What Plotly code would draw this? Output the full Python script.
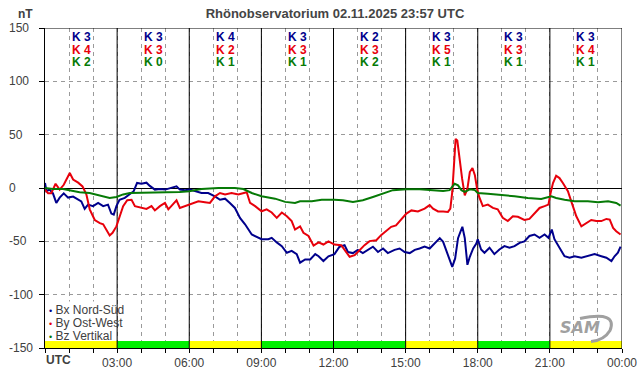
import plotly.graph_objects as go

# ---------------- data ----------------
bx_t = [0.0, 0.06, 0.19, 0.33, 0.47, 0.61, 0.78, 0.96, 1.17, 1.38, 1.51, 1.65, 1.79, 2.0, 2.21, 2.42,
        2.62, 2.76, 2.86, 2.97, 3.1, 3.32, 3.53, 3.69, 3.83, 4.01, 4.22, 4.36, 4.57, 4.78, 5.0, 5.19,
        5.47, 5.61, 5.82, 6.03, 6.24, 6.51, 6.79, 7.07, 7.28, 7.49, 7.69, 7.9, 8.11, 8.32, 8.6, 8.81,
        9.01, 9.29, 9.43, 9.64, 9.85, 10.06, 10.26, 10.47, 10.61, 10.82, 11.03, 11.24, 11.38, 11.58,
        11.79, 12.04, 12.25, 12.46, 12.6, 12.81, 13.01, 13.22, 13.43, 13.64, 13.85, 14.06, 14.26,
        14.54, 14.75, 14.96, 15.17, 15.38, 15.58, 15.79, 16.0, 16.21, 16.42, 16.56, 16.69, 16.83,
        16.94, 17.06, 17.18, 17.28, 17.36, 17.46, 17.57, 17.67, 17.81, 17.94, 18.0, 18.14, 18.28,
        18.49, 18.69, 18.9, 19.11, 19.32, 19.53, 19.74, 19.94, 20.15, 20.36, 20.57, 20.78, 20.94,
        21.08, 21.19, 21.4, 21.61, 21.82, 22.03, 22.31, 22.58, 22.86, 23.14, 23.35, 23.56, 23.69,
        23.83, 23.94]
bx_v = [4.7, -3, -1.5, -5, -14, -9, -5, -9, -8, -11, -12.5, -19.6, -15.6, -17, -14, -17,
        -15.6, -24, -25, -17, -11, -9.3, -6, -3, 4.7, 4, 5, 2, -1.5, -1, -1.5, 0,
        1.5, -1.5, -2, -1.5, -3, -4.7, -4.7, -7.8, -11, -10, -14, -18.7, -28, -34, -43.6, -45.8,
        -48, -48, -46.7, -51, -54.5, -60.7, -59, -62, -70, -67, -67, -62, -64, -68.5,
        -64, -62, -55, -53.6, -60, -61, -58, -61, -58, -55, -60, -56.7, -61,
        -58, -56.7, -60, -61, -58, -56.7, -55, -56.7, -52, -47, -50.5, -58, -66,
        -74, -66, -47, -41, -36.4, -47, -72, -64.5, -56.7, -52, -48, -57.6, -60.7,
        -56, -62, -57.6, -54.5, -56, -54.5, -51.4, -50, -45, -43.6, -46.7, -43.6, -46.7,
        -39, -48, -56, -64, -65.4, -64, -65.4, -64, -62, -64, -65.4, -68.5, -64,
        -60.7, -55]

by_t = [0.0, 0.13, 0.26, 0.44, 0.61, 0.78, 1.03, 1.17, 1.38, 1.56, 1.72, 1.86, 2.07, 2.28, 2.42,
        2.56, 2.69, 2.81, 2.97, 3.11, 3.25, 3.42, 3.6, 3.74, 3.94, 4.22, 4.43, 4.57, 4.78, 4.99,
        5.13, 5.26, 5.47, 5.61, 5.82, 6.03, 6.38, 6.65, 6.86, 7.07, 7.28, 7.49, 7.76, 8.04, 8.25,
        8.39, 8.53, 8.74, 9.01, 9.22, 9.43, 9.64, 9.85, 10.06, 10.26, 10.4, 10.61, 10.75, 10.96,
        11.17, 11.38, 11.58, 11.79, 12.04, 12.32, 12.46, 12.67, 12.88, 13.08, 13.29, 13.5, 13.78,
        13.99, 14.19, 14.4, 14.6, 14.81, 15.03, 15.24, 15.51, 15.79, 16.0, 16.14, 16.35, 16.56,
        16.76, 16.86, 16.94, 17.01, 17.08, 17.15, 17.25, 17.35, 17.46, 17.57, 17.67, 17.78, 17.88,
        17.97, 18.06, 18.21, 18.42, 18.63, 18.83, 19.04, 19.25, 19.46, 19.67, 19.94, 20.15, 20.36,
        20.57, 20.78, 20.94, 21.03, 21.13, 21.26, 21.4, 21.54, 21.75, 21.89, 22.1, 22.31, 22.51,
        22.72, 22.93, 23.14, 23.35, 23.49, 23.63, 23.76, 23.94]
by_v = [-1.5, -5, -5, 4, -1.5, 3, 14, 8, 5, 1.5, -6, -20, -30, -33, -34,
        -40, -44.5, -42, -36, -26.5, -17, -11.5, -11, -17, -18, -19.6, -17, -21, -17, -14,
        -20, -17, -11.5, -18.7, -17, -15.6, -12.5, -13.4, -14, -7.8, -4.7, -6, -4.7, -6, -4.7,
        -4, -14, -17, -21.8, -20, -23, -28, -23, -26.5, -31, -39, -36, -42, -45,
        -54, -51, -53, -50, -53, -53.6, -58, -64.5, -63, -58, -53.6, -49.8, -49,
        -44, -40.5, -36.4, -35, -30, -24, -21, -22, -19.3, -16, -19.3, -22, -22,
        -22.4, -19.3, -3.7, 21, 46, 44.5, 24, 8.7, -6.9, -0.6, 15, 18.7, 12,
        -0.6, -8.4, -17, -15.6, -18.7, -20, -28, -31, -26.5, -27, -30, -29, -24,
        -18.7, -17, -15.6, -4.7, 4.7, 11.5, 9.3, 4.7, -3, -12.5, -26.5, -36, -32.7,
        -30, -31, -31, -29, -29.6, -37.4, -40.5, -43.6]

bz_t = [0.0, 0.33, 0.75, 1.03, 1.44, 1.86, 2.28, 2.69, 2.97, 3.25, 3.53, 3.94, 4.5, 5.06, 5.61,
        6.0, 6.51, 7.21, 7.9, 8.25, 8.6, 9.01, 9.57, 9.99, 10.4, 10.61, 11.1, 11.51, 12.04, 12.39,
        12.81, 13.22, 13.64, 14.06, 14.47, 15.03, 15.58, 16.14, 16.56, 16.83, 17.04, 17.18, 17.32,
        17.46, 17.67, 17.88, 18.0, 18.42, 18.97, 19.53, 20.08, 20.64, 21.06, 21.26, 21.61, 22.03,
        22.58, 23.0, 23.42, 23.76, 23.94]
bz_v = [0, -1, -1, -2, -4, -4.7, -7, -9.3, -8.4, -6, -4.7, -4.7, -4.7, -4, -3.7,
        -3, -1, 0, 0, -1, -4.7, -7.8, -10, -13, -14, -12.5, -12.5, -11, -11, -11.5,
        -13, -11.5, -8.4, -5.3, -2, -1.2, -1.2, -2, -2.8, -2, 4, 2.5, -2,
        -3.7, -1.2, -2, -4.7, -5.3, -6.2, -7.8, -9.3, -10.3, -7.8, -9.3, -11, -12.5,
        -12.5, -13.4, -12.5, -14, -16.5]

k_block_start = [0, 3, 6, 9, 12, 15, 18, 21]
k_bx = [3, 3, 4, 3, 2, 3, 3, 3]
k_by = [4, 3, 2, 3, 3, 5, 3, 4]
k_bz = [2, 0, 1, 1, 2, 1, 1, 1]
block_status = ["yellow", "green", "yellow", "green", "green", "yellow", "green", "yellow"]

y_ticks = [150, 100, 50, 0, -50, -100, -150]
x_hours = list(range(25))
x_labels = ["", "", "", "03:00", "", "", "06:00", "", "", "09:00", "", "", "12:00", "", "", "15:00",
            "", "", "18:00", "", "", "21:00", "", "", "00:00"]
series_names = ["Bx Nord-Süd", "By Ost-West", "Bz Vertikal"]
title_text = "Rhönobservatorium 02.11.2025 23:57 UTC"

# ---------------- styling ----------------
C_BX, C_BY, C_BZ = "#00008c", "#e8000b", "#067a06"
STATUS_COLORS = {"yellow": "#ffff00", "green": "#00f000"}
FONT = "Liberation Sans, Arial, sans-serif"
TXT = "#404040"
L, R, T, B = 45, 20, 27.5, 27.5
PW, PH = 642 - L - R, 376 - T - B


def px(xp, yp):
    return (xp - L) / PW, (376 - B - yp) / PH


fig = go.Figure()
for t, v, c, n in [(bx_t, bx_v, C_BX, series_names[0]), (by_t, by_v, C_BY, series_names[1]),
                   (bz_t, bz_v, C_BZ, series_names[2])]:
    fig.add_trace(go.Scatter(x=t, y=v, mode="lines", name=n, line=dict(color=c, width=2),
                             showlegend=False))

shapes = []
# white box behind the legend (axis-referenced so it sits above the grid)
shapes.append(dict(type="rect", xref="x", yref="y", x0=0.04, x1=2.95, y0=-143.5, y1=-106.5,
                   fillcolor="white", line=dict(width=0), layer="between"))
for s, st in zip(k_block_start, block_status):
    shapes.append(dict(type="rect", xref="x", yref="y", x0=s, x1=s + 3, y0=-150, y1=-143.5,
                       fillcolor=STATUS_COLORS[st], line=dict(width=0), layer="between"))
for h in range(3, 25, 3):
    shapes.append(dict(type="line", xref="x", yref="y", x0=h, x1=h, y0=-150, y1=150,
                       line=dict(color="black", width=1), layer="between"))
shapes.append(dict(type="line", xref="x", yref="y", x0=0, x1=24, y0=150, y1=150,
                   line=dict(color="black", width=1), layer="between"))
p = [px(580, 319), px(618, 311), px(610, 331), px(604, 341), px(591, 342)]
shapes.append(dict(type="path", xref="paper", yref="paper",
                   path=f"M {p[0][0]},{p[0][1]} Q {p[1][0]},{p[1][1]} {p[2][0]},{p[2][1]} "
                        f"Q {p[3][0]},{p[3][1]} {p[4][0]},{p[4][1]}",
                   line=dict(color="#a0a0a0", width=3)))

ann = []
for s, a, b, c in zip(k_block_start, k_bx, k_by, k_bz):
    for val, col, yp in [(a, C_BX, 37), (b, C_BY, 49.5), (c, C_BZ, 62)]:
        ann.append(dict(x=s + 1.5, y=px(0, yp)[1], xref="x", yref="paper", text=f"<b>K {val}</b>",
                        showarrow=False, xanchor="center", yanchor="middle",
                        font=dict(family=FONT, size=12, color=col)))
for yt in y_ticks:
    ann.append(dict(x=px(7, 0)[0], y=yt, xref="paper", yref="y", text=str(yt), xanchor="left",
                    yanchor="middle", showarrow=False, font=dict(family=FONT, size=12, color=TXT)))
ann.append(dict(x=px(16, 0)[0], y=px(0, 13)[1], xref="paper", yref="paper", text="<b>nT</b>",
                xanchor="left", yanchor="middle", showarrow=False, font=dict(family=FONT, size=12, color=TXT)))
ann.append(dict(x=px(44, 0)[0], y=px(0, 361)[1], xref="paper", yref="paper", text="<b>UTC</b>",
                xanchor="left", yanchor="middle", showarrow=False, font=dict(family=FONT, size=12, color=TXT)))
for i, (n, c) in enumerate(zip(series_names, [C_BX, C_BY, C_BZ])):
    ann.append(dict(x=px(47, 0)[0], y=px(0, 310 + 13 * i)[1], xref="paper", yref="paper",
                    text=f"<span style='color:{c};font-size:9px'>•</span> {n}", xanchor="left",
                    yanchor="middle", showarrow=False, font=dict(family=FONT, size=12, color=TXT)))
ann.append(dict(x=px(580, 0)[0], y=px(0, 328)[1], xref="paper", yref="paper", text="<b><i>SAM</i></b>",
                xanchor="center", yanchor="middle", showarrow=False,
                font=dict(family="DejaVu Sans, sans-serif", size=16, color="#a0a0a0")))

fig.update_layout(
    width=642, height=376,
    margin=dict(l=L, r=R, t=T, b=B, autoexpand=False),
    paper_bgcolor="white", plot_bgcolor="white",
    title=dict(text=f"<b>{title_text}</b>", x=335 / 642, xanchor="center", y=1 - 13 / 376,
               yanchor="middle", automargin=False,
               font=dict(family=FONT, size=13, color="#444444")),
    shapes=shapes, annotations=ann,
    xaxis=dict(range=[0, 24], tickvals=x_hours, ticktext=x_labels, showgrid=True, automargin=False,
               gridcolor="#9a9a9a", griddash="4px,4px", gridwidth=1, showline=True,
               linecolor="black", linewidth=1, ticks="outside", ticklen=4, tickcolor="black",
               zeroline=False, tickfont=dict(family=FONT, size=12, color=TXT)),
    yaxis=dict(range=[-150, 150], tickvals=y_ticks, showticklabels=False, showgrid=True,
               automargin=False,
               gridcolor="#9a9a9a", griddash="4px,4px", gridwidth=1, showline=True,
               linecolor="black", linewidth=1, ticks="outside", ticklen=5, tickcolor="black",
               zeroline=True, zerolinecolor="black", zerolinewidth=1),
)

fig.write_html("out.html", config={"displayModeBar": False},
               post_script="document.body.style.margin='0px';document.body.style.overflow='hidden';")
